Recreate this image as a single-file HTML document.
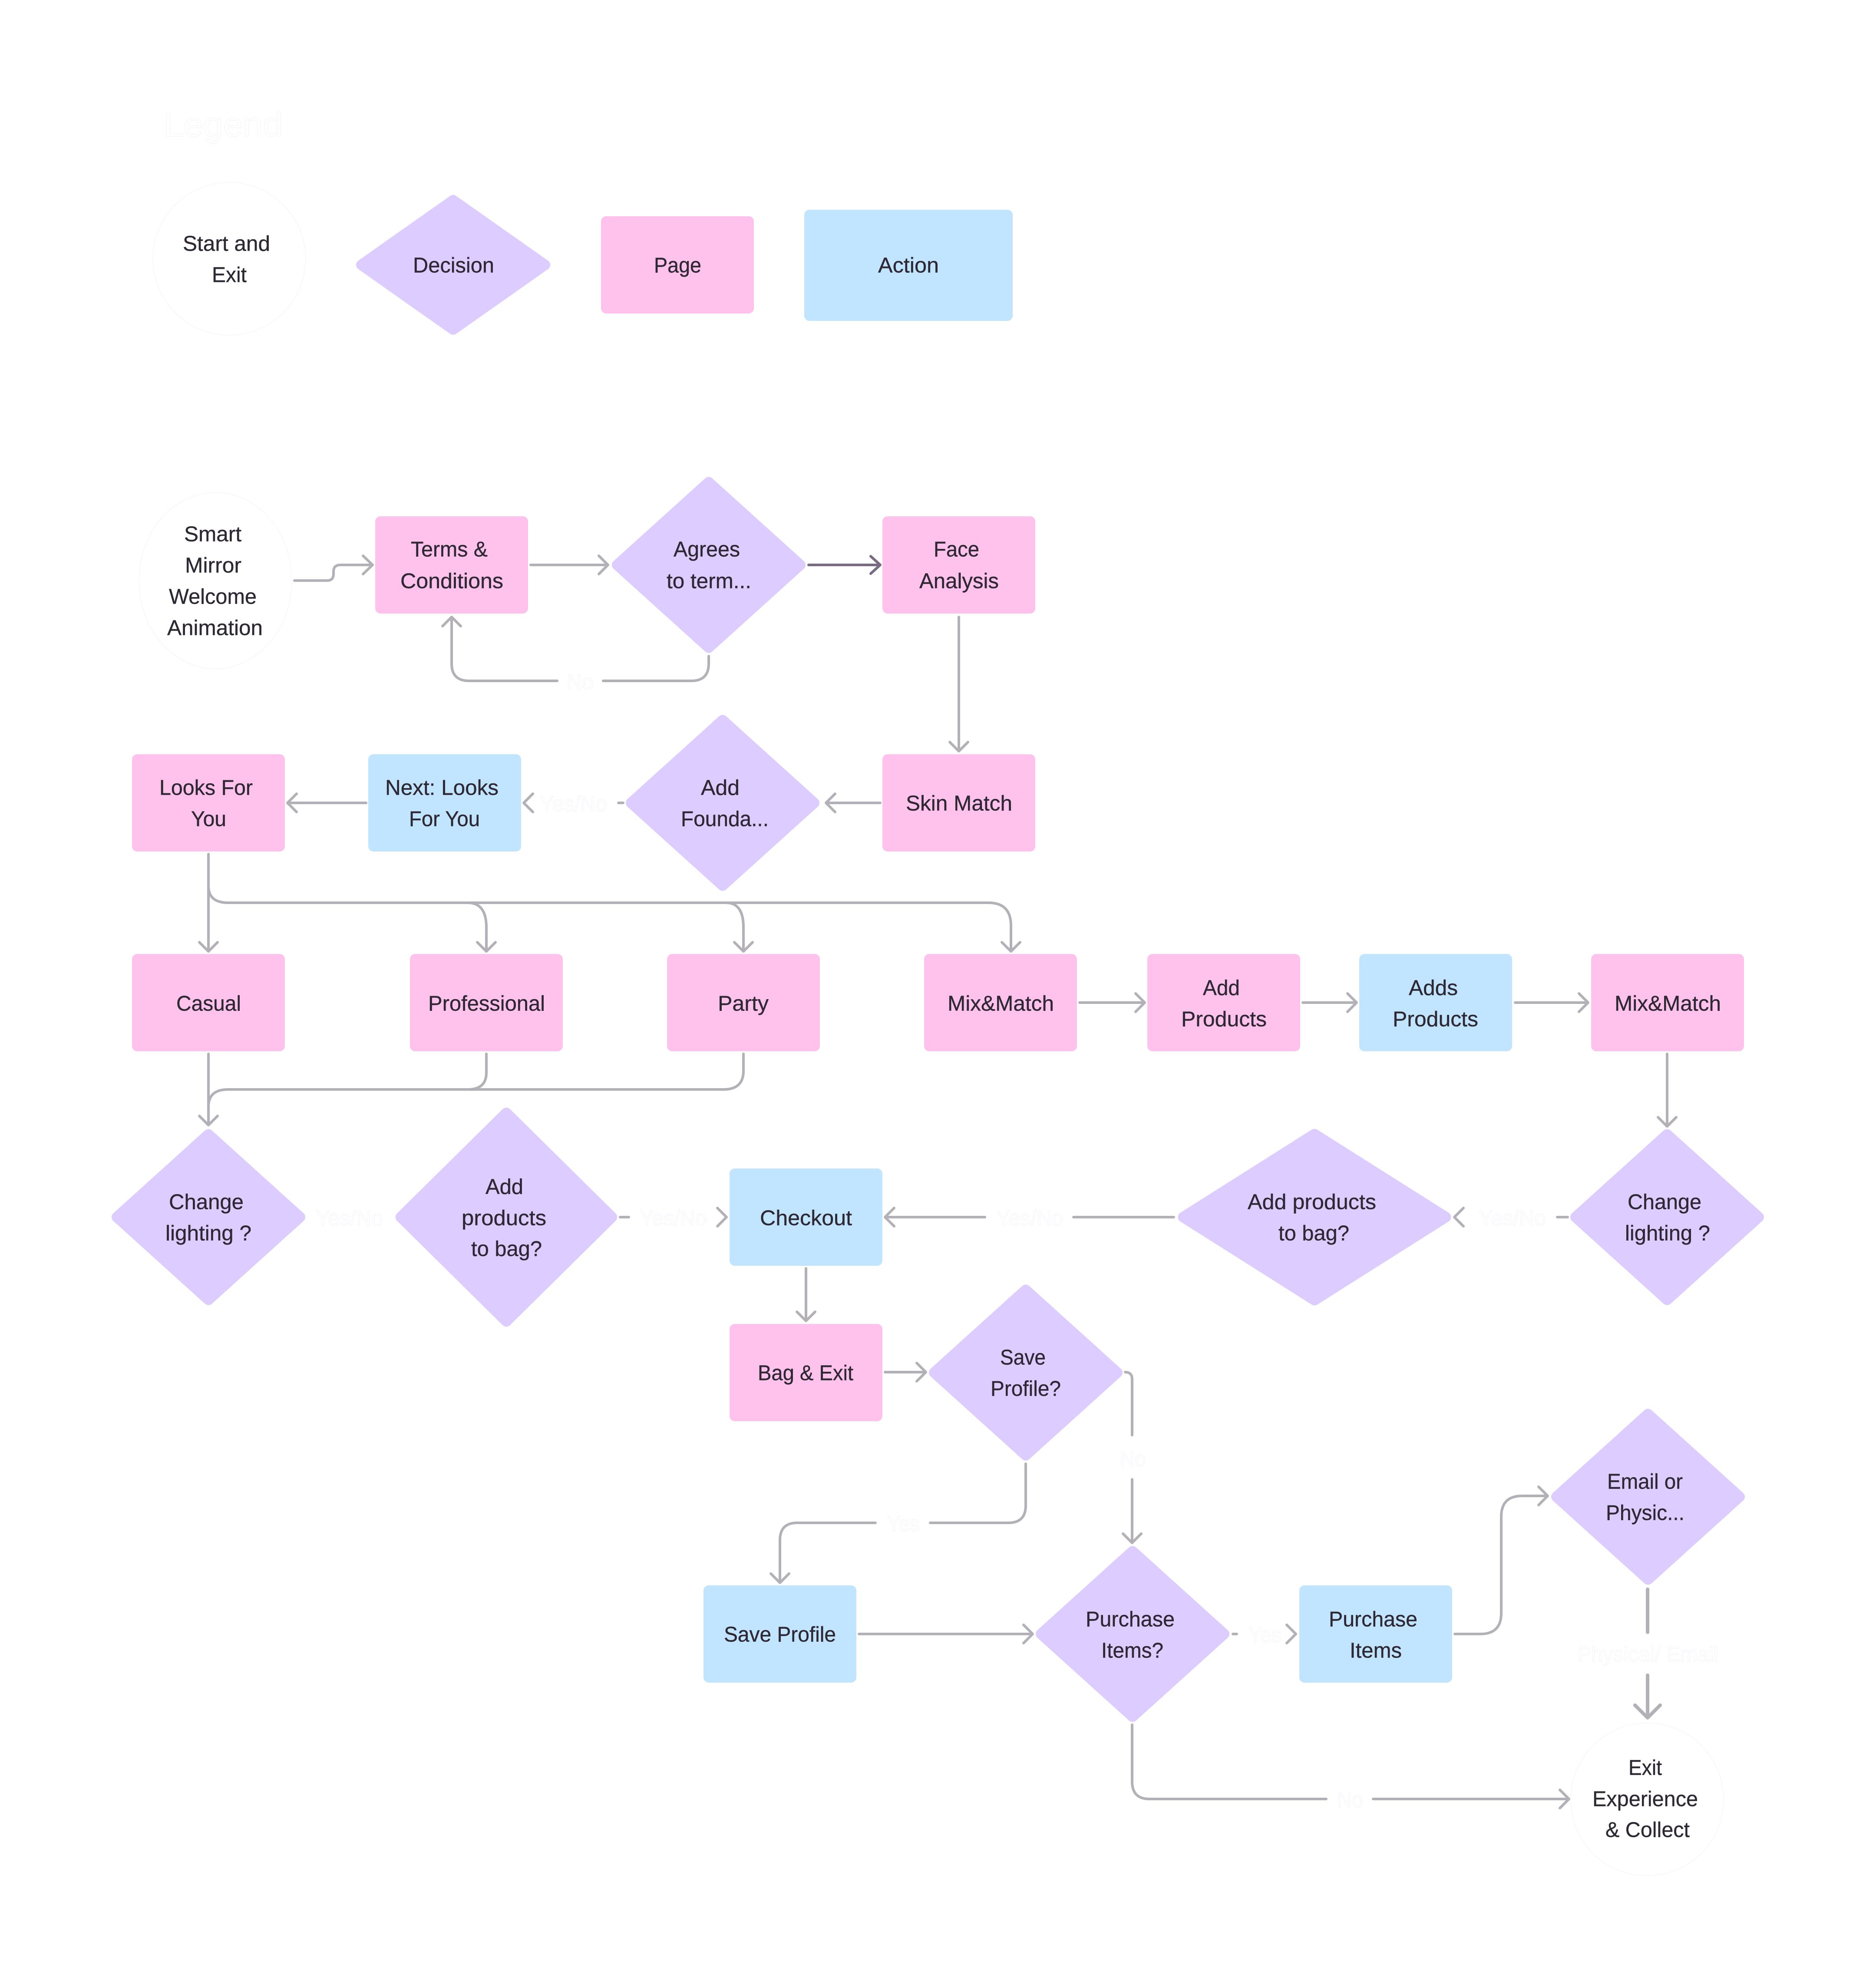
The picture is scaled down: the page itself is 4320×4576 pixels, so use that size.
<!DOCTYPE html>
<html lang="en">
<head>
<meta charset="utf-8">
<title>Smart Mirror Flow</title>
<style>
html,body{margin:0;padding:0;background:#fff;}
svg{display:block;}
text{font-family:"Liberation Sans",sans-serif;font-size:49px;}
.t{fill:#2d2833;stroke:#2d2833;stroke-width:.4;}
.l{fill:#fff;stroke:#eeeefb;stroke-width:.7;}
.p{fill:#ffc2ec;}
.b{fill:#c2e5ff;}
.d{fill:#dcccff;stroke:#dcccff;stroke-width:24;stroke-linejoin:round;}
.e{fill:#fff;stroke:#eeeefb;stroke-width:.8;}
.c{fill:none;stroke:#b3b0b8;stroke-width:6;stroke-linecap:round;stroke-linejoin:round;}
</style>
</head>
<body>
<svg xmlns="http://www.w3.org/2000/svg" width="4320" height="4576" viewBox="0 0 4320 4576">
<rect width="4320" height="4576" fill="#fff"/>

<!-- Shapes -->
<circle class="e" cx="528" cy="596" r="176"/>
<polygon class="d" points="832,610 1043.5,461 1255,610 1043.5,759"/>
<rect class="p" x="1384" y="498" width="352" height="224" rx="12"/>
<rect class="b" x="1852" y="483" width="480" height="256" rx="12"/>

<ellipse class="e" cx="496" cy="1337" rx="176" ry="203"/>
<rect class="p" x="864" y="1189" width="352" height="224" rx="12"/>
<polygon class="d" points="1421,1301 1632,1110.4 1843,1301 1632,1491.6"/>
<rect class="p" x="2032" y="1189" width="352" height="224" rx="12"/>

<rect class="p" x="304" y="1737" width="352" height="224" rx="12"/>
<rect class="b" x="848" y="1737" width="352" height="224" rx="12"/>
<polygon class="d" points="1453,1849 1664,1658.4 1875,1849 1664,2039.6"/>
<rect class="p" x="2032" y="1737" width="352" height="224" rx="12"/>

<rect class="p" x="304" y="2197" width="352" height="224" rx="12"/>
<rect class="p" x="944" y="2197" width="352" height="224" rx="12"/>
<rect class="p" x="1536" y="2197" width="352" height="224" rx="12"/>
<rect class="p" x="2128" y="2197" width="352" height="224" rx="12"/>
<rect class="p" x="2642" y="2197" width="352" height="224" rx="12"/>
<rect class="b" x="3130" y="2197" width="352" height="224" rx="12"/>
<rect class="p" x="3664" y="2197" width="352" height="224" rx="12"/>

<polygon class="d" points="269,2803 480,2612.4 691,2803 480,2993.6"/>
<polygon class="d" points="922.7,2803 1166,2562.7 1409.3,2803 1166,3043.3"/>
<rect class="b" x="1680" y="2691" width="352" height="224" rx="12"/>
<polygon class="d" points="2724.5,2803 3027,2611.7 3329.5,2803 3027,2994.3"/>
<polygon class="d" points="3628,2803 3839,2612.4 4050,2803 3839,2993.6"/>

<rect class="p" x="1680" y="3049" width="352" height="224" rx="12"/>
<polygon class="d" points="2151,3161 2362,2970.4 2573,3161 2362,3351.6"/>
<polygon class="d" points="3584,3447 3795,3256.4 4006,3447 3795,3637.6"/>
<rect class="b" x="1620" y="3651" width="352" height="224" rx="12"/>
<polygon class="d" points="2397,3763 2608,3572.4 2819,3763 2608,3953.6"/>
<rect class="b" x="2992" y="3651" width="352" height="224" rx="12"/>
<circle class="e" cx="3793" cy="4144" r="176"/>

<!-- Connectors -->
<path class="c" d="M678 1337H753Q768 1337 768 1322V1316Q768 1301 784 1301H858M836 1280L858 1301L836 1322"/>
<path class="c" d="M1222 1301H1400M1379 1280L1400 1301L1379 1322"/>
<path class="c" style="stroke:#7a6b85" d="M1862 1301H2027M2005 1281L2027 1301L2005 1321"/>
<path class="c" d="M1632 1511V1528Q1632 1568 1592 1568H1389M1283 1568H1080Q1040 1568 1040 1528V1421M1019 1442L1040 1421L1061 1442"/>
<path class="c" d="M2208 1421V1730M2187 1709L2208 1730L2229 1709"/>
<path class="c" d="M2027 1849H1902M1923 1828L1902 1849L1923 1870"/>
<path class="c" d="M1435 1849H1424M1227 1828L1206 1849L1227 1870"/>
<path class="c" d="M843 1849H662M683 1828L662 1849L683 1870"/>
<path class="c" d="M480 1967V2191M459 2170L480 2191L501 2170"/>
<path class="c" d="M480 2040Q480 2079 525 2079H1077Q1120 2079 1120 2136V2191M1099 2170L1120 2191L1141 2170"/>
<path class="c" d="M1077 2079H1672Q1712 2079 1712 2136V2191M1691 2170L1712 2191L1733 2170"/>
<path class="c" d="M1672 2079H2276Q2328 2079 2328 2132V2191M2307 2170L2328 2191L2349 2170"/>
<path class="c" d="M480 2427V2591M459 2570L480 2591L501 2570"/>
<path class="c" d="M1120 2427V2470Q1120 2509 1077 2509H525Q480 2509 480 2549"/>
<path class="c" d="M1712 2427V2466Q1712 2509 1666 2509H1077"/>
<path class="c" d="M2486 2309H2636M2615 2288L2636 2309L2615 2330"/>
<path class="c" d="M3000 2309H3124M3103 2288L3124 2309L3103 2330"/>
<path class="c" d="M3489 2309H3657M3636 2288L3657 2309L3636 2330"/>
<path class="c" d="M3839 2427V2594M3818 2573L3839 2594L3860 2573"/>
<path class="c" d="M3610 2803H3586M3370 2782L3349 2803L3370 2824"/>
<path class="c" d="M2703 2803H2472M2268 2803H2038M2059 2782L2038 2803L2059 2824"/>
<path class="c" d="M1428 2803H1448M1652 2782L1673 2803L1652 2824"/>
<path class="c" d="M1856 2921V3042M1835 3021L1856 3042L1877 3021"/>
<path class="c" d="M2038 3160H2132M2111 3139L2132 3160L2111 3181"/>
<path class="c" d="M2591 3160Q2607 3160 2607 3176V3305M2607 3407V3553M2586 3532L2607 3553L2628 3532"/>
<path class="c" d="M2362 3371V3467Q2362 3507 2322 3507H2142M2016 3507H1836Q1796 3507 1796 3547V3645M1775 3624L1796 3645L1817 3624"/>
<path class="c" d="M1978 3763H2378M2357 3742L2378 3763L2357 3784"/>
<path class="c" d="M2839 3763H2848M2963 3742L2984 3763L2963 3784"/>
<path class="c" d="M3350 3763H3409Q3457 3763 3457 3715V3493Q3457 3445 3505 3445H3564M3543 3424L3564 3445L3543 3466"/>
<path class="c" d="M2607 3972V4103Q2607 4143 2647 4143H3054M3162 4143H3613M3592 4122L3613 4143L3592 4164"/>
<path class="c" style="stroke-width:8" d="M3794 3660V3759M3794 3858V3956M3765 3927L3794 3956L3823 3927"/>

<!-- Title and faint labels -->
<text class="l" x="377" y="314" style="font-size:80px" textLength="274" lengthAdjust="spacingAndGlyphs">Legend</text>
<text class="l" x="1305" y="1587" textLength="62" lengthAdjust="spacingAndGlyphs">No</text>
<text class="l" x="1243" y="1868" textLength="155" lengthAdjust="spacingAndGlyphs">Yes/No</text>
<text class="l" x="727" y="2822" textLength="155" lengthAdjust="spacingAndGlyphs">Yes/No</text>
<text class="l" x="1473" y="2822" textLength="155" lengthAdjust="spacingAndGlyphs">Yes/No</text>
<text class="l" x="2294" y="2822" textLength="155" lengthAdjust="spacingAndGlyphs">Yes/No</text>
<text class="l" x="3405" y="2822" textLength="155" lengthAdjust="spacingAndGlyphs">Yes/No</text>
<text class="l" x="2579" y="3377" textLength="60" lengthAdjust="spacingAndGlyphs">No</text>
<text class="l" x="2043" y="3526" textLength="75" lengthAdjust="spacingAndGlyphs">Yes</text>
<text class="l" x="2875" y="3782" textLength="75" lengthAdjust="spacingAndGlyphs">Yes</text>
<text class="l" x="3079" y="4162" textLength="60" lengthAdjust="spacingAndGlyphs">No</text>
<text class="l" x="3632" y="3826" textLength="325" lengthAdjust="spacingAndGlyphs">Physical/ Email</text>

<!-- Node text -->
<g class="t" transform="translate(0,-1.5)">
<text x="421" y="579" textLength="201" lengthAdjust="spacingAndGlyphs">Start and</text>
<text x="488" y="651" textLength="80" lengthAdjust="spacingAndGlyphs">Exit</text>
<text x="951" y="629" textLength="187" lengthAdjust="spacingAndGlyphs">Decision</text>
<text x="1506" y="629" textLength="109" lengthAdjust="spacingAndGlyphs">Page</text>
<text x="2022" y="629" textLength="140" lengthAdjust="spacingAndGlyphs">Action</text>

<text x="424" y="1248" textLength="132" lengthAdjust="spacingAndGlyphs">Smart</text>
<text x="426" y="1320" textLength="130" lengthAdjust="spacingAndGlyphs">Mirror</text>
<text x="389" y="1392" textLength="202" lengthAdjust="spacingAndGlyphs">Welcome</text>
<text x="385" y="1464" textLength="220" lengthAdjust="spacingAndGlyphs">Animation</text>

<text x="946" y="1283" textLength="177" lengthAdjust="spacingAndGlyphs">Terms &amp;</text>
<text x="922" y="1356" textLength="237" lengthAdjust="spacingAndGlyphs">Conditions</text>
<text x="1551" y="1283" textLength="153" lengthAdjust="spacingAndGlyphs">Agrees</text>
<text x="1535" y="1356" textLength="195" lengthAdjust="spacingAndGlyphs">to term...</text>
<text x="2150" y="1283" textLength="105" lengthAdjust="spacingAndGlyphs">Face</text>
<text x="2117" y="1356" textLength="183" lengthAdjust="spacingAndGlyphs">Analysis</text>

<text x="367" y="1832" textLength="215" lengthAdjust="spacingAndGlyphs">Looks For</text>
<text x="440" y="1904" textLength="81" lengthAdjust="spacingAndGlyphs">You</text>
<text x="887" y="1832" textLength="261" lengthAdjust="spacingAndGlyphs">Next: Looks</text>
<text x="942" y="1904" textLength="163" lengthAdjust="spacingAndGlyphs">For You</text>
<text x="1614" y="1832" textLength="89" lengthAdjust="spacingAndGlyphs">Add</text>
<text x="1568" y="1904" textLength="202" lengthAdjust="spacingAndGlyphs">Founda...</text>
<text x="2086" y="1868" textLength="245" lengthAdjust="spacingAndGlyphs">Skin Match</text>

<text x="406" y="2329" textLength="149" lengthAdjust="spacingAndGlyphs">Casual</text>
<text x="986" y="2329" textLength="269" lengthAdjust="spacingAndGlyphs">Professional</text>
<text x="1653" y="2329" textLength="117" lengthAdjust="spacingAndGlyphs">Party</text>
<text x="2182" y="2329" textLength="245" lengthAdjust="spacingAndGlyphs">Mix&amp;Match</text>
<text x="2770" y="2293" textLength="85" lengthAdjust="spacingAndGlyphs">Add</text>
<text x="2720" y="2365" textLength="197" lengthAdjust="spacingAndGlyphs">Products</text>
<text x="3244" y="2293" textLength="113" lengthAdjust="spacingAndGlyphs">Adds</text>
<text x="3207" y="2365" textLength="197" lengthAdjust="spacingAndGlyphs">Products</text>
<text x="3718" y="2329" textLength="245" lengthAdjust="spacingAndGlyphs">Mix&amp;Match</text>

<text x="389" y="2786" textLength="172" lengthAdjust="spacingAndGlyphs">Change</text>
<text x="381" y="2858" textLength="198" lengthAdjust="spacingAndGlyphs">lighting ?</text>
<text x="1118" y="2751" textLength="87" lengthAdjust="spacingAndGlyphs">Add</text>
<text x="1063" y="2823" textLength="195" lengthAdjust="spacingAndGlyphs">products</text>
<text x="1085" y="2894" textLength="163" lengthAdjust="spacingAndGlyphs">to bag?</text>
<text x="1750" y="2823" textLength="212" lengthAdjust="spacingAndGlyphs">Checkout</text>
<text x="2873" y="2786" textLength="296" lengthAdjust="spacingAndGlyphs">Add products</text>
<text x="2944" y="2858" textLength="163" lengthAdjust="spacingAndGlyphs">to bag?</text>
<text x="3748" y="2786" textLength="170" lengthAdjust="spacingAndGlyphs">Change</text>
<text x="3742" y="2858" textLength="196" lengthAdjust="spacingAndGlyphs">lighting ?</text>

<text x="1745" y="3180" textLength="220" lengthAdjust="spacingAndGlyphs">Bag &amp; Exit</text>
<text x="2303" y="3144" textLength="105" lengthAdjust="spacingAndGlyphs">Save</text>
<text x="2281" y="3216" textLength="162" lengthAdjust="spacingAndGlyphs">Profile?</text>
<text x="3701" y="3430" textLength="174" lengthAdjust="spacingAndGlyphs">Email or</text>
<text x="3698" y="3502" textLength="181" lengthAdjust="spacingAndGlyphs">Physic...</text>
<text x="1667" y="3782" textLength="258" lengthAdjust="spacingAndGlyphs">Save Profile</text>
<text x="2500" y="3747" textLength="205" lengthAdjust="spacingAndGlyphs">Purchase</text>
<text x="2536" y="3819" textLength="143" lengthAdjust="spacingAndGlyphs">Items?</text>
<text x="3060" y="3747" textLength="204" lengthAdjust="spacingAndGlyphs">Purchase</text>
<text x="3108" y="3819" textLength="120" lengthAdjust="spacingAndGlyphs">Items</text>
<text x="3750" y="4089" textLength="77" lengthAdjust="spacingAndGlyphs">Exit</text>
<text x="3667" y="4161" textLength="243" lengthAdjust="spacingAndGlyphs">Experience</text>
<text x="3697" y="4232" textLength="194" lengthAdjust="spacingAndGlyphs">&amp; Collect</text>
</g>
</svg>
</body>
</html>
